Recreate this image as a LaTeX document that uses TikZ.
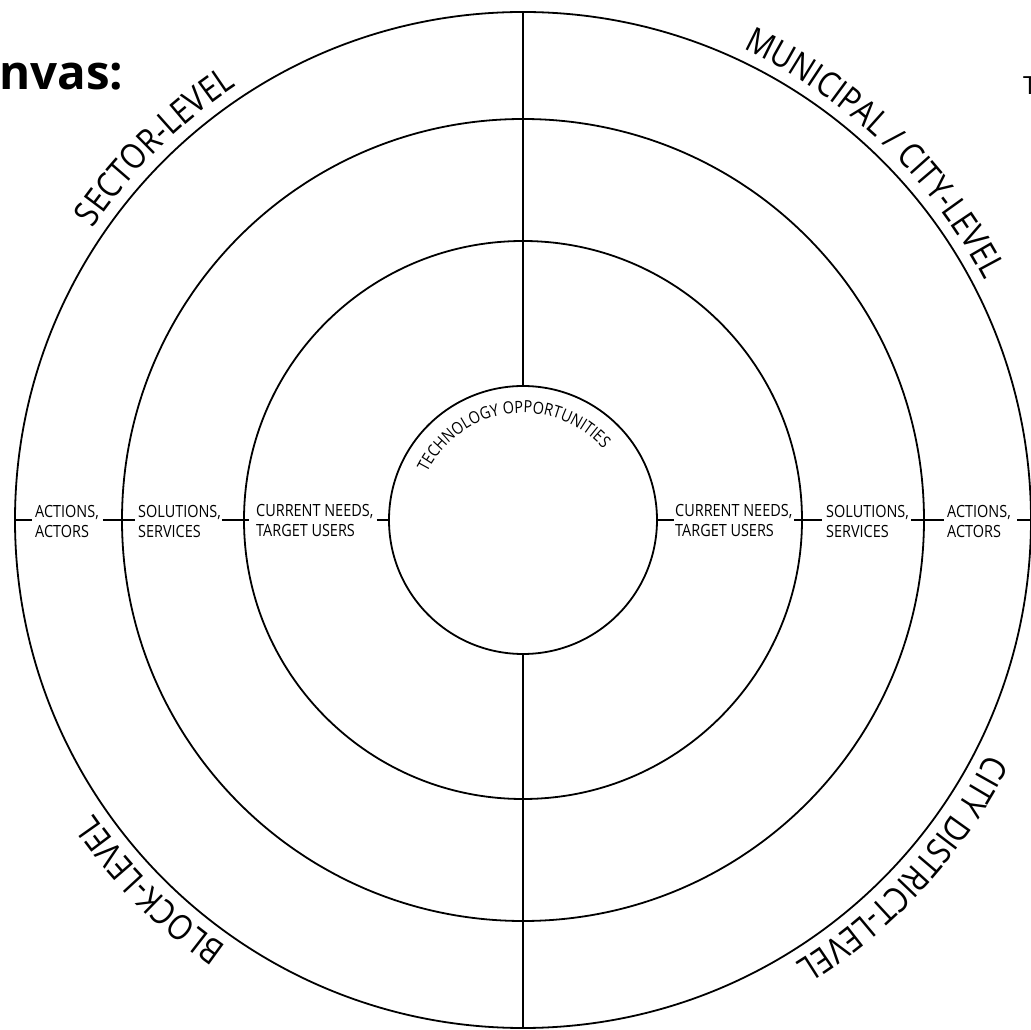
\documentclass[tikz,border=0pt]{standalone}
\usepackage{fontspec}
\setmainfont{Open Sans}[FakeStretch=0.86]
\newfontfamily\plainfont{Open Sans}
\usetikzlibrary{decorations.text}
\newcommand\ringlblfont{\fontsize{35}{40}\selectfont}
\newcommand\sidelblfont{\fontsize{16.8}{20}\selectfont}
\newcommand\innerlblfont{\fontsize{16.8}{20}\selectfont}
\begin{document}
\begin{tikzpicture}[x=1pt,y=1pt,
  ring/.style={circle, draw, line width=1.8pt, inner sep=0pt, outer sep=0pt},
  rule/.style={line width=1.8pt},
  lbl/.style={anchor=west, inner sep=0pt, align=left, font=\sidelblfont},
  arclbl/.style={decorate, decoration={text along path, text align=center, text={|\ringlblfont|#1}}},
  innerarclbl/.style={decorate, decoration={text along path, text align=center, text={|\innerlblfont|#1}}}
]
\useasboundingbox (-523,-510) rectangle (508,520);
% rings
\node[ring, minimum size=1016pt] (c1) at (0,0) {};
\node[ring, minimum size=802pt] (c2) at (0,0) {};
\node[ring, minimum size=558pt] (c3) at (0,0) {};
\node[ring, minimum size=268pt] (c4) at (0,0) {};
% dividing lines
\draw[rule] (c4.north) -- (c1.north);
\draw[rule] (c4.south) -- (c1.south);
% ticks left
\draw[rule] (c1.west) -- ([xshift=17pt]c1.west);
\draw[rule] ([xshift=-19pt]c2.west) -- ([xshift=13pt]c2.west);
\draw[rule] ([xshift=-22pt]c3.west) -- ([xshift=5pt]c3.west);
\draw[rule] ([xshift=-12pt]c4.west) -- (c4.west);
% ticks right
\draw[rule] (c4.east) -- ([xshift=17pt]c4.east);
\draw[rule] ([xshift=-8pt]c3.east) -- ([xshift=20pt]c3.east);
\draw[rule] ([xshift=-13pt]c2.east) -- ([xshift=20pt]c2.east);
\draw[rule] ([xshift=-14pt]c1.east) -- (c1.east);
% side labels
\node[lbl] (la) at (-488,-1) {ACTIONS,\\ACTORS};
\node[lbl] (ls) at (-385,-1) {SOLUTIONS,\\SERVICES};
\node[lbl] (lc) at (-267,-1) {CURRENT NEEDS,\\TARGET USERS};
\node[lbl] (rc) at (152,-1) {CURRENT NEEDS,\\TARGET USERS};
\node[lbl] (rs) at (303,-1) {SOLUTIONS,\\SERVICES};
\node[lbl] (ra) at (424,-1) {ACTIONS,\\ACTORS};
% curved labels
\path[arclbl={SECTOR-LEVEL}] (174.65:520) arc[start angle=174.65, end angle=94.65, radius=520];
\path[arclbl={MUNICIPAL / CITY-LEVEL}] (86.2:520) arc[start angle=86.2, end angle=6.2, radius=520];
\path[arclbl={BLOCK-LEVEL}] (264.8:520) arc[start angle=264.8, end angle=184.8, radius=520];
\path[arclbl={CITY DISTRICT-LEVEL}] (-2.55:520) arc[start angle=-2.55, end angle=-82.55, radius=520];
\path[innerarclbl={TECHNOLOGY OPPORTUNITIES}] (177.5:107) arc[start angle=177.5, end angle=17.5, radius=107];
% cut-off texts at the edges
\node[anchor=base west, inner sep=0pt, font=\plainfont\bfseries\fontsize{47.5}{52}\selectfont] (title) at (-524,430) {nvas:};
\node[anchor=base west, inner sep=0pt, font=\plainfont\fontsize{25}{30}\selectfont] (tcut) at (500,425) {T};
\end{tikzpicture}
\end{document}
